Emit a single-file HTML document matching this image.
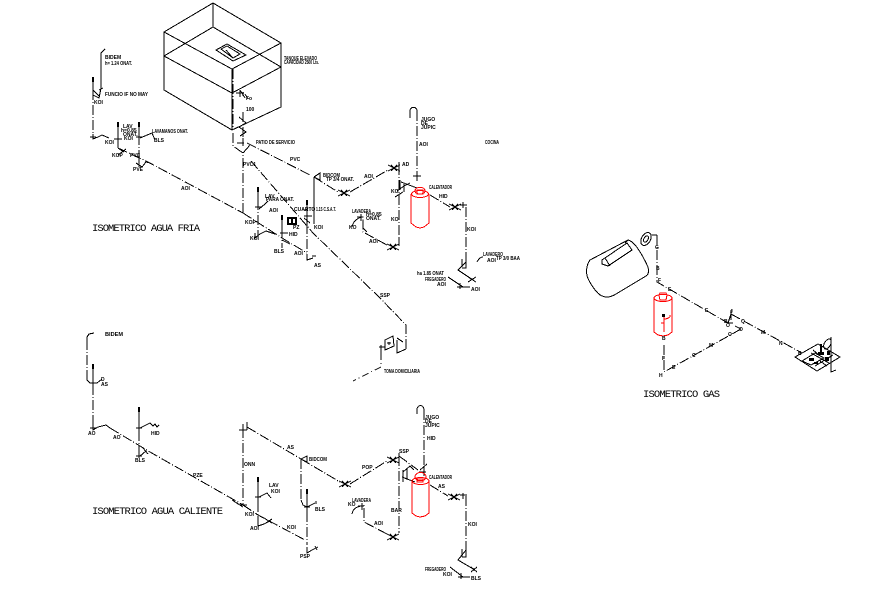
<!DOCTYPE html>
<html><head><meta charset="utf-8"><style>
html,body{margin:0;padding:0;background:#fff}
svg{display:block}
.s{fill:none;stroke:#000;stroke-width:1}
.d{fill:none;stroke:#000;stroke-width:1;stroke-dasharray:10 2 1 2}
.e{fill:none;stroke:#000;stroke-width:1;stroke-dasharray:7 3 1 3}
.r{fill:none;stroke:#f00;stroke-width:1}
.t{font:bold 5px "Liberation Sans",sans-serif;fill:#000}
.h{font:10.5px "Liberation Mono",monospace;fill:#000}
</style></head><body>
<svg width="878" height="605" viewBox="0 0 878 605" xmlns="http://www.w3.org/2000/svg" shape-rendering="crispEdges">
<defs>
<g id="x"><path class="s" d="M-6-3 6 3M-6 3 6-3M-3-3 3 3M-3 3 3-3"/></g>
<g id="c"><path d="M-1-5h2v5h-2z" fill="#000"/><path class="s" d="M0 0V8"/></g>
</defs>

<!-- TANK -->
<path class="s" d="M164 32 213 3 281 43 232 69ZM164 32V90L232 130 281 107V43M232 69V130M164 56 213 27 281 67M164 56 232 93 281 67M213 3V27"/>
<path class="s" d="M216 50 227 44 246 55 233 61ZM221 49 227 46 240 54 233 58ZM226 50 232 57"/>
<path class="d" d="M233 69V130M233 133V146L243 153V213"/>
<path class="s" d="M240 90 V97M240 90 245 98M236 93H244M243 92V96M245 94 248 99"/>
<path class="d" d="M243 112V145"/>
<path class="s" d="M239 117 246 123 239 127 246 132 240 136"/>
<path class="s" d="M237 143H244M243 138V146"/>
<text class="t" x="284" y="60" textLength="33" lengthAdjust="spacingAndGlyphs">TANQUE ELEVADO</text>
<text class="t" x="284" y="64" textLength="35" lengthAdjust="spacingAndGlyphs">CAPACIDAD 2500 Lts.</text>
<text class="t" x="246" y="100">Fo</text>
<text class="t" x="246" y="111">100</text>
<text class="t" x="256" y="144" textLength="39" lengthAdjust="spacingAndGlyphs">PATIO DE SERVICIO</text>
<text class="t" x="290" y="161">PVC</text>
<text class="t" x="243" y="166">PVC1</text>

<!-- COLD LEFT -->
<path class="s" d="M105 49 101 53V88L99 98 93 95M93 90 99 96M99 90 103 88"/>
<use href="#c" x="93" y="82"/>
<path class="d" d="M93 90V137"/>
<path class="s" d="M93 134V139L98 137 102 135 109 138M90 137H96"/>
<text class="t" x="105" y="59">BIDEM</text>
<text class="t" x="105" y="65" textLength="27" lengthAdjust="spacingAndGlyphs">h= 1.24 ONAT.</text>
<text class="t" x="105" y="96" textLength="43" lengthAdjust="spacingAndGlyphs">FUNCIO IF NO MAY</text>
<text class="t" x="94" y="104">KOI</text>
<text class="t" x="105" y="144">KOI</text>
<use href="#c" x="118" y="127"/>
<use href="#c" x="139" y="127"/>
<path class="s" d="M118 135V148M114 139H122M118 148 124 152M126 149 118 155"/>
<path class="d" d="M118 148 148 162 243 213"/>
<path class="d" d="M139 135V167"/>
<path class="s" d="M136 137H142M140 138 152 133 155 140M136 163 142 167 146 162 150 163M139 160V167"/>
<text class="t" x="123" y="128">LAV</text>
<text class="t" x="121" y="132">h=0.85</text>
<text class="t" x="123" y="136">ONAT.</text>
<text class="t" x="124" y="140">KOI</text>
<text class="t" x="152" y="133" textLength="36" lengthAdjust="spacingAndGlyphs">LAVAMANOS ONAT.</text>
<text class="t" x="154" y="142">BLS</text>
<text class="t" x="112" y="157">KOP</text>
<text class="t" x="130" y="157">PVC</text>
<text class="t" x="133" y="171">PVE</text>
<text class="t" x="181" y="190">AOI</text>
<text class="h" x="92" y="231" textLength="108" lengthAdjust="spacing">ISOMETRICO AGUA FRIA</text>

<!-- COLD MID -->
<path class="d" d="M243 153 250 145M247 143 310 175"/>
<path class="d" d="M251 161 313 233 380 298 406 325V350"/>
<path class="s" d="M397 340V353L406 349M385 340 393 336 394 346 385 350ZM389 342V345M387 343H391M381 345V353M379 347H385M397 338 403 342"/>
<path class="e" d="M381 353V367L353 381"/>
<text class="t" x="380" y="297">SSP</text>
<text class="t" x="384" y="373" textLength="36" lengthAdjust="spacingAndGlyphs">TOMA DOMICILIARIA</text>
<use href="#c" x="258" y="192"/>
<path class="d" d="M258 200V236"/>
<path class="s" d="M255 207H262M259 209 265 204 268 201M255 233V238L260 234 266 231 275 234"/>
<text class="t" x="265" y="198">LAV</text>
<text class="t" x="266" y="201" textLength="28" lengthAdjust="spacingAndGlyphs">PARA ONAT.</text>
<text class="t" x="269" y="212">AOI</text>
<text class="t" x="245" y="224">KOP</text>
<text class="t" x="250" y="240">KOI</text>
<use href="#c" x="282" y="220"/>
<path class="d" d="M282 228V248"/>
<path class="s" d="M280 233H288M282 240 290 244"/>
<path class="d" d="M243 213 282 238 307 253"/>
<text class="t" x="289" y="236">HID</text>
<text class="t" x="274" y="253">BLS</text>
<text class="t" x="294" y="255">AOI</text>
<path d="M287 217h10v8h-10z" fill="#000"/><path d="M289 219h2v4h-2zM293 219h2v4h-2z" fill="#fff"/>
<text class="t" x="293" y="229">PZ</text>
<use href="#c" x="307" y="205"/>
<path class="s" d="M304 210H308M304 218 310 223M307 213V224M304 216H312"/>
<text class="t" x="294" y="211">CUARTO</text>
<text class="t" x="316" y="211" textLength="20" lengthAdjust="spacingAndGlyphs">1.15 C.S.A.T.</text>
<path class="d" d="M307 224V258"/>
<path class="s" d="M307 254V260L313 258M312 256H316"/>
<text class="t" x="314" y="267">AS</text>
<text class="t" x="314" y="229">KOI</text>
<path class="s" d="M314 177V224M314 177 320 173V180L314 177"/>
<text class="t" x="323" y="177" textLength="17" lengthAdjust="spacingAndGlyphs">BIDCOM</text>
<text class="t" x="326" y="181" textLength="28" lengthAdjust="spacingAndGlyphs">TP 3/4 ONAT.</text>
<path class="d" d="M314 177 338 192"/>
<use href="#x" x="344" y="193"/>
<path class="d" d="M350 192 388 170"/>
<use href="#x" x="394" y="168"/>
<text class="t" x="364" y="178">AOI</text>
<text class="t" x="402" y="166">AD</text>
<path class="s" d="M399 162V170"/>
<path class="d" d="M399 165V240"/>
<text class="t" x="391" y="193">KO</text>
<text class="t" x="391" y="221">KO</text>
<use href="#x" x="393" y="247"/>
<path class="s" d="M399 238V246"/>
<path class="d" d="M387 245 363 232V215"/>
<path class="s" d="M357 217H363M361 214V221M352 227C353 222 356 219 361 217M363 228 367 232"/>
<text class="t" x="349" y="229">KO</text>
<text class="t" x="352" y="213" textLength="19" lengthAdjust="spacingAndGlyphs">LAVADERA</text>
<text class="t" x="366" y="216">h=0.85</text>
<text class="t" x="366" y="220">ONAT.</text>
<text class="t" x="369" y="243">AOI</text>

<!-- COLD HEATER -->
<path class="s" d="M410 118V111C410 106 417 106 417 111"/>
<path class="d" d="M417 111V177"/>
<path class="s" d="M413 176H421M417 173V181M401 182 417 188M400 180V190M404 184V192M397 191 404 186 410 183M395 197 403 192"/>
<text class="t" x="421" y="121">JUGO</text>
<text class="t" x="421" y="125">DE</text>
<text class="t" x="421" y="129">JUPIC</text>
<text class="t" x="419" y="146">AOI</text>
<text class="t" x="485" y="144" textLength="14" lengthAdjust="spacingAndGlyphs">COCINA</text>
<text class="t" x="429" y="189" textLength="23" lengthAdjust="spacingAndGlyphs">CALENTADOR</text>
<ellipse class="r" cx="420" cy="194" rx="8.5" ry="3.5"/>
<path class="r" d="M411 194V223L416 227 420 228 424 227 429 223V194M415 191C415 186 425 186 425 191 425 195 415 195 415 191ZM417 190H423V194H417Z"/>
<path class="d" d="M430 195 450 207"/>
<use href="#x" x="455" y="207"/>
<path class="s" d="M460 205H467M463 202V208"/>
<path class="d" d="M466 207V258"/>
<text class="t" x="439" y="198">HID</text>
<text class="t" x="467" y="231">KOI</text>
<path class="s" d="M466 258V268H462M462 259V267M466 262 458 270 473 280M448 277 463 287M460 283V289M457 287H470M468 277 476 282M468 282 476 277"/>
<text class="t" x="471" y="291">AOI</text>
<text class="t" x="483" y="256" textLength="20" lengthAdjust="spacingAndGlyphs">LAVADERO</text>
<text class="t" x="496" y="260" textLength="24" lengthAdjust="spacingAndGlyphs">TP 3/0 BAA</text>
<text class="t" x="487" y="262">AOI</text>
<path class="s" d="M477 262C479 258 481 257 483 257"/>
<text class="t" x="417" y="275" textLength="27" lengthAdjust="spacingAndGlyphs">ha 1.85 ONAT</text>
<text class="t" x="425" y="281" textLength="21" lengthAdjust="spacingAndGlyphs">FREGADERO</text>
<text class="t" x="437" y="286">AOI</text>

<!-- HOT LEFT -->
<path class="d" d="M87 340V380"/>
<path class="s" d="M94 333 89 334 87 337V341M87 380 90 383H93M93 375V385M90 383H97L102 379"/>
<use href="#c" x="93" y="369"/>
<path class="d" d="M93 385V428"/>
<path class="s" d="M93 424V430L98 427 102 426 106 425 110 428M90 428H96"/>
<text class="t" x="105" y="336" textLength="18" lengthAdjust="spacingAndGlyphs">BIDEM</text>
<text class="t" x="101" y="381">D</text>
<text class="t" x="101" y="386">AS</text>
<text class="t" x="88" y="435">AO</text>
<text class="t" x="113" y="439">AO</text>
<use href="#c" x="139" y="412"/>
<path class="s" d="M139 420V431M136 428H142M140 428 150 423 153 426 155 424 157 427 159 425"/>
<text class="t" x="151" y="435">HID</text>
<path class="d" d="M139 431V457"/>
<path class="s" d="M139 451V458M136 456H142M140 456 146 451M143 448 148 454"/>
<text class="t" x="135" y="462">BLS</text>
<path class="d" d="M110 428 150 452 243 505"/>
<text class="t" x="193" y="477">PZE</text>
<text class="h" x="92" y="514" textLength="131" lengthAdjust="spacing">ISOMETRICO AGUA CALIENTE</text>

<!-- HOT MID -->
<path class="s" d="M239 430H247M243 424V433M247 422V430"/>
<path class="d" d="M243 428V505"/>
<text class="t" x="244" y="466">ONN</text>
<path class="s" d="M232 500 243 507M240 505H247"/>
<path class="d" d="M247 427 301 459"/>
<text class="t" x="287" y="449">AS</text>
<path class="s" d="M301 459 307 456V462ZM301 500 303 505 307 507"/>
<text class="t" x="309" y="461" textLength="18" lengthAdjust="spacingAndGlyphs">BIDCOM</text>
<path class="d" d="M301 459V500"/>
<use href="#c" x="307" y="494"/>
<path class="s" d="M307 502V512M304 507H310M307 507 315 503M316 501V504"/>
<text class="t" x="315" y="511">BLS</text>
<path class="d" d="M307 512V545"/>
<path class="s" d="M307 547V553L312 550 318 547M315 546 317 550"/>
<text class="t" x="300" y="558">PSP</text>
<path class="d" d="M301 459 340 482"/>
<use href="#x" x="345" y="484"/>
<path class="d" d="M350 484 387 461"/>
<use href="#x" x="393" y="460"/>
<path class="s" d="M399 453V463"/>
<text class="t" x="399" y="453">SSP</text>
<text class="t" x="362" y="469">POP</text>
<path class="d" d="M399 456V533"/>
<text class="t" x="391" y="512">BAR</text>
<use href="#x" x="393" y="537"/>
<path class="d" d="M387 534 364 522V505"/>
<path class="s" d="M358 506H364M362 503V510M352 514C353 509 356 507 361 506"/>
<text class="t" x="348" y="506">KO</text>
<text class="t" x="352" y="502" textLength="19" lengthAdjust="spacingAndGlyphs">LAVADERA</text>
<text class="t" x="374" y="525">AOI</text>
<use href="#c" x="258" y="482"/>
<path class="s" d="M258 490V502M255 497H261M259 497 267 493 271 498"/>
<text class="t" x="269" y="487">LAV</text>
<text class="t" x="271" y="493">KOI</text>
<path class="d" d="M258 502V516"/>
<text class="t" x="245" y="516">KOI</text>
<path class="d" d="M243 505 258 515 305 540"/>
<path class="s" d="M258 516V526L264 524 270 521M264 518 272 523M266 523 272 519"/>
<text class="t" x="250" y="530">AOI</text>
<text class="t" x="287" y="529">KOI</text>

<!-- HOT HEATER -->
<path class="s" d="M417 414V410C417 404 424 404 424 410"/>
<path class="d" d="M424 410V470"/>
<path class="s" d="M420 470 427 464M419 472H426M424 466V476M402 477 415 482M403 470V482M407 469V480M403 472 410 466 414 470"/>
<path class="d" d="M399 456 418 470"/>
<text class="t" x="425" y="419">JUGO</text>
<text class="t" x="425" y="423">DE</text>
<text class="t" x="425" y="427">JUPIC</text>
<text class="t" x="427" y="440">HID</text>
<text class="t" x="429" y="479" textLength="23" lengthAdjust="spacingAndGlyphs">CALENTADOR</text>
<ellipse class="r" cx="420.500" cy="481" rx="8.500" ry="3.500"/>
<path class="r" d="M412 481V513L416 516 420 517 425 516 429 513V481M415 477C415 471 426 471 426 477 426 482 415 482 415 477ZM417 479H423V482H417Z"/>
<path class="d" d="M430 485 448 496"/>
<use href="#x" x="454" y="497"/>
<path class="s" d="M460 495H467M463 493V499"/>
<path class="d" d="M466 496V550"/>
<text class="t" x="438" y="488">AS</text>
<text class="t" x="468" y="526">KOI</text>
<path class="s" d="M466 548V557H462M462 549V557M466 550 458 560 475 570M450 567 463 577M461 573V579M458 577H470M471 567 477 572M471 572 477 567"/>
<text class="t" x="425" y="571" textLength="21" lengthAdjust="spacingAndGlyphs">FREGADERO</text>
<text class="t" x="443" y="576">KOI</text>
<text class="t" x="471" y="580">BLS</text>

<!-- GAS -->
<path class="s" d="M628 240C634 241 641 252 648 267 649 272 648 275 646 276L616 294C611 297 607 298 602 296 597 294 590 284 587 276 586 270 587 264 590 260ZM628 240 625 243"/>
<path class="s" d="M602 260 627 243 632 250 608 266 602 264ZM605 258 610 266"/>
<ellipse class="s" cx="646" cy="239" rx="4.500" ry="7" transform="rotate(30 646 239)"/>
<ellipse class="s" cx="646" cy="239" rx="2" ry="3.500" transform="rotate(30 646 239)"/>
<path class="s" d="M652 235H657"/>
<path class="d" d="M657 235V282L728 323"/>
<path class="s" d="M731 310V320M731 314 728 323"/>
<path class="d" d="M731 314 802 353"/>
<path class="s" d="M728 323H733M741 329 735 326"/>
<path class="d" d="M741 329 664 372V343"/>
<ellipse class="r" cx="663" cy="298" rx="9" ry="3.500"/>
<path class="r" d="M654 298V332L658 335 663 336 668 335 672 332V298M659 295 660 293H666L667 295 666 300H660Z"/>
<path class="r" d="M664 314V332M664 319C668 319 671 317 670 315M661 323H664"/>
<path d="M662 314h3v3h-3z" fill="#000"/>
<text class="t" x="655" y="249">G</text><text class="t" x="656" y="270">B</text><text class="t" x="658" y="282">F</text>
<text class="t" x="668" y="291">E</text><text class="t" x="705" y="312">E</text><text class="t" x="724" y="323">B</text>
<text class="t" x="741" y="323">Q</text><text class="t" x="761" y="334">M</text><text class="t" x="779" y="345">N</text>
<text class="t" x="798" y="355">B</text><text class="t" x="662" y="340">B</text><text class="t" x="662" y="360">F</text>
<text class="t" x="672" y="369">E</text><text class="t" x="692" y="357">C</text><text class="t" x="709" y="347">M</text>
<text class="t" x="728" y="336">O</text><text class="t" x="659" y="377">H</text><text class="t" x="730" y="313">J</text>
<text class="t" x="739" y="331">O</text><text class="t" x="726" y="327">O</text>
<path class="s" d="M795 357 818 344 840 357 817 371ZM831 337V372L836 370M825 349C821 345 827 338 830 339 833 341 830 349 825 349ZM802 361 815 353 824 358 811 365ZM811 353 829 363M815 366 833 355M813 350 819 355M820 361 827 366"/>
<path d="M818 352h6v3h-6zM809 358h5v3h-5zM825 357h4v4h-4zM820 344h2v8h-2zM827 351h3v4h-3zM814 362h4v2h-4z" fill="#000"/>
<text class="h" x="643" y="397" textLength="77" lengthAdjust="spacing">ISOMETRICO GAS</text>
</svg>
</body></html>
